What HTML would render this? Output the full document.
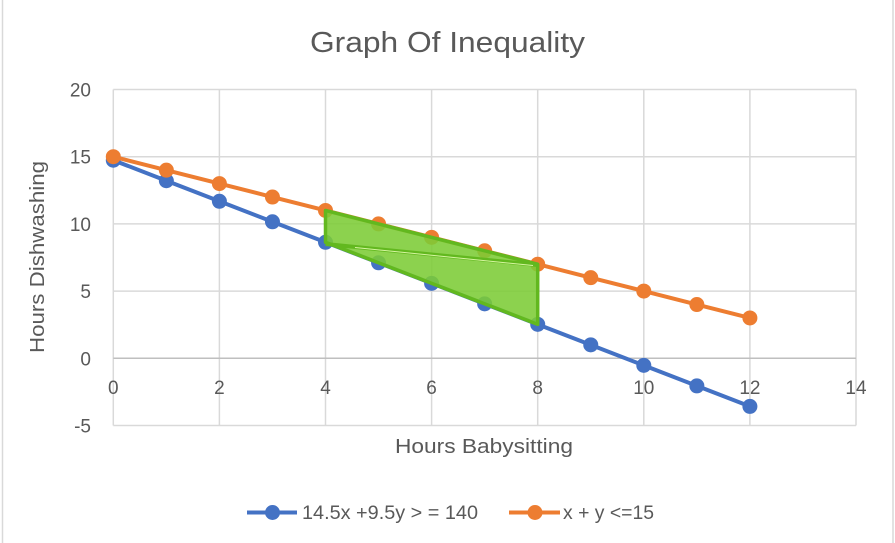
<!DOCTYPE html>
<html>
<head>
<meta charset="utf-8">
<style>
html,body{margin:0;padding:0;background:#fff;}
svg{display:block;}
text{font-family:"Liberation Sans",sans-serif;fill:#595959;}
</style>
</head>
<body>
<svg width="895" height="543" viewBox="0 0 895 543" xmlns="http://www.w3.org/2000/svg">
<rect x="0" y="0" width="895" height="543" fill="#fff"/>
<line x1="2.5" y1="0" x2="2.5" y2="543" stroke="#d9d9d9" stroke-width="1.5"/>
<line x1="893" y1="0" x2="893" y2="543" stroke="#d9d9d9" stroke-width="1.5"/>

<text x="447.5" y="52" font-size="29" text-anchor="middle" textLength="275" lengthAdjust="spacingAndGlyphs">Graph Of Inequality</text>

<!-- gridlines -->
<g stroke="#d9d9d9" stroke-width="1.5">
<line x1="113.3" y1="89.5" x2="856" y2="89.5"/>
<line x1="113.3" y1="156.7" x2="856" y2="156.7"/>
<line x1="113.3" y1="223.9" x2="856" y2="223.9"/>
<line x1="113.3" y1="291.1" x2="856" y2="291.1"/>
<line x1="113.3" y1="425.5" x2="856" y2="425.5"/>
<line x1="113.3" y1="89.5" x2="113.3" y2="425.5"/>
<line x1="219.4" y1="89.5" x2="219.4" y2="425.5"/>
<line x1="325.5" y1="89.5" x2="325.5" y2="425.5"/>
<line x1="431.6" y1="89.5" x2="431.6" y2="425.5"/>
<line x1="537.7" y1="89.5" x2="537.7" y2="425.5"/>
<line x1="643.8" y1="89.5" x2="643.8" y2="425.5"/>
<line x1="749.9" y1="89.5" x2="749.9" y2="425.5"/>
<line x1="856" y1="89.5" x2="856" y2="425.5"/>
</g>
<line x1="113.3" y1="358.3" x2="856" y2="358.3" stroke="#bfbfbf" stroke-width="1.5"/>

<!-- y tick labels -->
<g font-size="19" text-anchor="end">
<text x="91" y="96.5">20</text>
<text x="91" y="163.7">15</text>
<text x="91" y="230.9">10</text>
<text x="91" y="298.1">5</text>
<text x="91" y="365.3">0</text>
<text x="91" y="432.5">-5</text>
</g>
<!-- x tick labels -->
<g font-size="19" text-anchor="middle">
<text x="113.3" y="394">0</text>
<text x="219.4" y="394">2</text>
<text x="325.5" y="394">4</text>
<text x="431.6" y="394">6</text>
<text x="537.7" y="394">8</text>
<text x="643.8" y="394">10</text>
<text x="749.9" y="394">12</text>
<text x="856" y="394">14</text>
</g>

<text x="484" y="453" font-size="20" text-anchor="middle" textLength="178" lengthAdjust="spacingAndGlyphs">Hours Babysitting</text>
<text transform="translate(44,257) rotate(-90)" x="0" y="0" font-size="20" text-anchor="middle" textLength="192" lengthAdjust="spacingAndGlyphs">Hours Dishwashing</text>

<!-- blue series -->
<polyline fill="none" stroke="#4472c4" stroke-width="4" stroke-linejoin="round" points="113.3,160.24 166.35,180.75 219.4,201.26 272.45,221.78 325.5,242.29 378.55,262.81 431.6,283.32 484.65,303.83 537.7,324.35 590.75,344.86 643.8,365.37 696.85,385.89 749.9,406.4"/>
<g fill="#4472c4">
<circle cx="113.3" cy="160.24" r="7.5"/>
<circle cx="166.35" cy="180.75" r="7.5"/>
<circle cx="219.4" cy="201.26" r="7.5"/>
<circle cx="272.45" cy="221.78" r="7.5"/>
<circle cx="325.5" cy="242.29" r="7.5"/>
<circle cx="378.55" cy="262.81" r="7.5"/>
<circle cx="431.6" cy="283.32" r="7.5"/>
<circle cx="484.65" cy="303.83" r="7.5"/>
<circle cx="537.7" cy="324.35" r="7.5"/>
<circle cx="590.75" cy="344.86" r="7.5"/>
<circle cx="643.8" cy="365.37" r="7.5"/>
<circle cx="696.85" cy="385.89" r="7.5"/>
<circle cx="749.9" cy="406.4" r="7.5"/>
</g>

<!-- orange series -->
<polyline fill="none" stroke="#ed7d31" stroke-width="4" stroke-linejoin="round" points="113.3,156.7 166.35,170.14 219.4,183.58 272.45,197.02 325.5,210.46 378.55,223.9 431.6,237.34 484.65,250.78 537.7,264.22 590.75,277.66 643.8,291.1 696.85,304.54 749.9,317.98"/>
<g fill="#ed7d31">
<circle cx="113.3" cy="156.7" r="7.5"/>
<circle cx="166.35" cy="170.14" r="7.5"/>
<circle cx="219.4" cy="183.58" r="7.5"/>
<circle cx="272.45" cy="197.02" r="7.5"/>
<circle cx="325.5" cy="210.46" r="7.5"/>
<circle cx="378.55" cy="223.9" r="7.5"/>
<circle cx="431.6" cy="237.34" r="7.5"/>
<circle cx="484.65" cy="250.78" r="7.5"/>
<circle cx="537.7" cy="264.22" r="7.5"/>
<circle cx="590.75" cy="277.66" r="7.5"/>
<circle cx="643.8" cy="291.1" r="7.5"/>
<circle cx="696.85" cy="304.54" r="7.5"/>
<circle cx="749.9" cy="317.98" r="7.5"/>
</g>

<!-- green shaded region -->
<polygon points="325.5,210.46 537.7,264.22 537.7,324.35 325.5,242.29" fill="#7ccc36" fill-opacity="0.88" stroke="#62b81f" stroke-width="3.5" stroke-linejoin="round"/>
<line x1="325.5" y1="244" x2="537.7" y2="265" stroke="#62b81f" stroke-width="4"/>
<line x1="355" y1="247.5" x2="533" y2="265.5" stroke="#d6f5a0" stroke-width="1"/>

<!-- legend -->
<line x1="247" y1="512.5" x2="297" y2="512.5" stroke="#4472c4" stroke-width="4"/>
<circle cx="272.5" cy="512.5" r="7.5" fill="#4472c4"/>
<text x="302" y="519" font-size="19" textLength="176" lengthAdjust="spacingAndGlyphs">14.5x +9.5y &gt; = 140</text>
<line x1="509" y1="512.5" x2="560" y2="512.5" stroke="#ed7d31" stroke-width="4"/>
<circle cx="535" cy="512.5" r="7.5" fill="#ed7d31"/>
<text x="563" y="519" font-size="19" textLength="91" lengthAdjust="spacingAndGlyphs">x + y &lt;=15</text>
</svg>
</body>
</html>
